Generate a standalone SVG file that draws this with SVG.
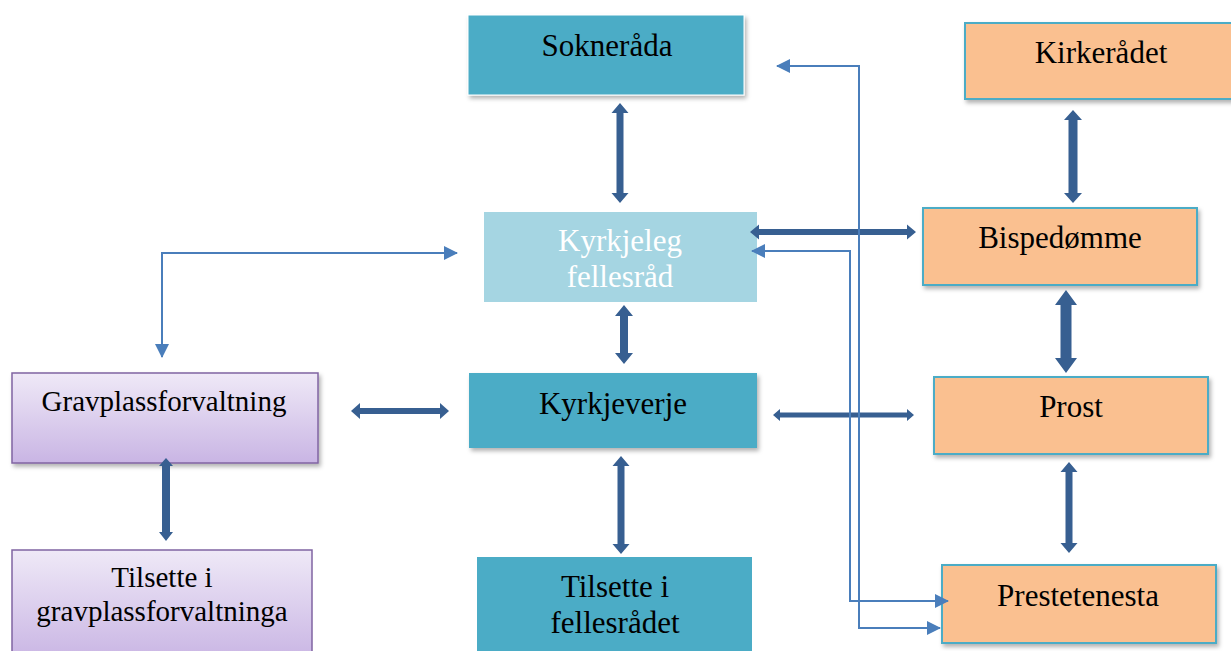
<svg xmlns="http://www.w3.org/2000/svg" width="1231" height="651" viewBox="0 0 1231 651">
<defs>
<linearGradient id="purp" x1="0" y1="0" x2="0" y2="1">
<stop offset="0" stop-color="#efe9f7"/>
<stop offset="1" stop-color="#c9b5e4"/>
</linearGradient>
<filter id="sh" x="-10%" y="-10%" width="125%" height="130%">
<feDropShadow dx="2" dy="3" stdDeviation="2" flood-color="#000" flood-opacity="0.3"/>
</filter>
<marker id="ah" viewBox="0 0 14 14" refX="13" refY="7" markerWidth="14" markerHeight="14" markerUnits="userSpaceOnUse" orient="auto-start-reverse">
<path d="M0,0 L14,7 L0,14 Z" fill="#4a7ebb"/>
</marker>
<style>
.t{font-family:"Liberation Serif","Times New Roman",serif;font-size:31px;fill:#000;text-anchor:middle}
.tg{font-size:29px}
.tw{fill:#fff}
.teal{fill:#4bacc6}
.orange{fill:#fac090;stroke:#4bacc6;stroke-width:2}
.purple{fill:url(#purp);stroke:#8064a2;stroke-width:1.5}
.thick{fill:#375f91}
.thin{fill:none;stroke:#4a7ebb;stroke-width:2;marker-start:url(#ah);marker-end:url(#ah)}
</style>
</defs>
<rect width="1231" height="651" fill="#fff"/>

<g id="sokneraada">
<rect x="468" y="15" width="276" height="80" class="teal" stroke="#fff" stroke-width="1" filter="url(#sh)"/>
<text class="t" x="607" y="56">Sokneråda</text>
</g>
<g id="kyrkjeleg-fellesraad">
<rect x="484" y="212" width="273" height="90" fill="#a5d5e2"/>
<text class="t tw" x="620" y="251">Kyrkjeleg</text>
<text class="t tw" x="620" y="287">fellesråd</text>
</g>
<g id="kyrkjeverje">
<rect x="469" y="373" width="288" height="75" class="teal" filter="url(#sh)"/>
<text class="t" x="613" y="414">Kyrkjeverje</text>
</g>
<g id="tilsette-fellesraadet">
<rect x="477" y="557" width="275" height="100" class="teal"/>
<text class="t" x="615" y="597">Tilsette i</text>
<text class="t" x="615" y="633">fellesrådet</text>
</g>
<g id="gravplassforvaltning">
<rect x="12" y="373" width="306" height="90" class="purple" filter="url(#sh)"/>
<text class="t tg" x="164" y="411">Gravplassforvaltning</text>
</g>
<g id="tilsette-gravplass">
<rect x="12" y="550" width="300" height="110" class="purple"/>
<text class="t tg" x="162" y="587">Tilsette i</text>
<text class="t tg" x="162" y="621">gravplassforvaltninga</text>
</g>
<g id="kirkeraadet">
<rect x="965" y="23" width="280" height="76" class="orange" filter="url(#sh)"/>
<text class="t" x="1101" y="63">Kirkerådet</text>
</g>
<g id="bispedomme">
<rect x="923" y="208" width="274" height="77" class="orange" filter="url(#sh)"/>
<text class="t" x="1060" y="248">Bispedømme</text>
</g>
<g id="prost">
<rect x="934" y="377" width="274" height="77" class="orange" filter="url(#sh)"/>
<text class="t" x="1071" y="417">Prost</text>
</g>
<g id="prestetenesta">
<rect x="942" y="565" width="274" height="78" class="orange" filter="url(#sh)"/>
<text class="t" x="1078" y="606">Prestetenesta</text>
</g>

<g id="connectors">
<polygon class="thick" points="620,103 628.5,113 623.5,113 623.5,193 628.5,193 620,203 611.5,193 616.5,193 616.5,113 611.5,113"/>
<polygon class="thick" points="624,305 633,316 628,316 628,353 633,353 624,364 615,353 620,353 620,316 615,316"/>
<polygon class="thick" points="621,456 629.5,466 624.5,466 624.5,544 629.5,544 621,554 612.5,544 617.5,544 617.5,466 612.5,466"/>
<polygon class="thick" points="750,232 759,224.5 759,229 907,229 907,224.5 916,232 907,239.5 907,235 759,235 759,239.5"/>
<polygon class="thick" points="351,411 360,403 360,408 440,408 440,403 449,411 440,419 440,414 360,414 360,419"/>
<polygon class="thick" points="773,415 780,409 780,412.5 907,412.5 907,409 914,415 907,421 907,417.5 780,417.5 780,421"/>
<polygon class="thick" points="166,458 173,466 170,466 170,532 173,532 166,541 159,532 162,532 162,466 159,466"/>
<polygon class="thick" points="1073,110 1082,120 1077.5,120 1077.5,193 1082,193 1073,203 1064,193 1068.5,193 1068.5,120 1064,120"/>
<polygon class="thick" points="1066,290 1077,305 1071.5,305 1071.5,358 1077,358 1066,373 1055,358 1060.5,358 1060.5,305 1055,305"/>
<polygon class="thick" points="1069,462 1077.5,472 1072.5,472 1072.5,543 1077.5,543 1069,553 1060.5,543 1065.5,543 1065.5,472 1060.5,472"/>
<polyline class="thin" points="457,253 162,253 162,357"/>
<polyline class="thin" points="940,628 859,628 859,66 777,66"/>
<polyline class="thin" points="752,251 850,251 850,601 948,601"/>
</g>
</svg>
